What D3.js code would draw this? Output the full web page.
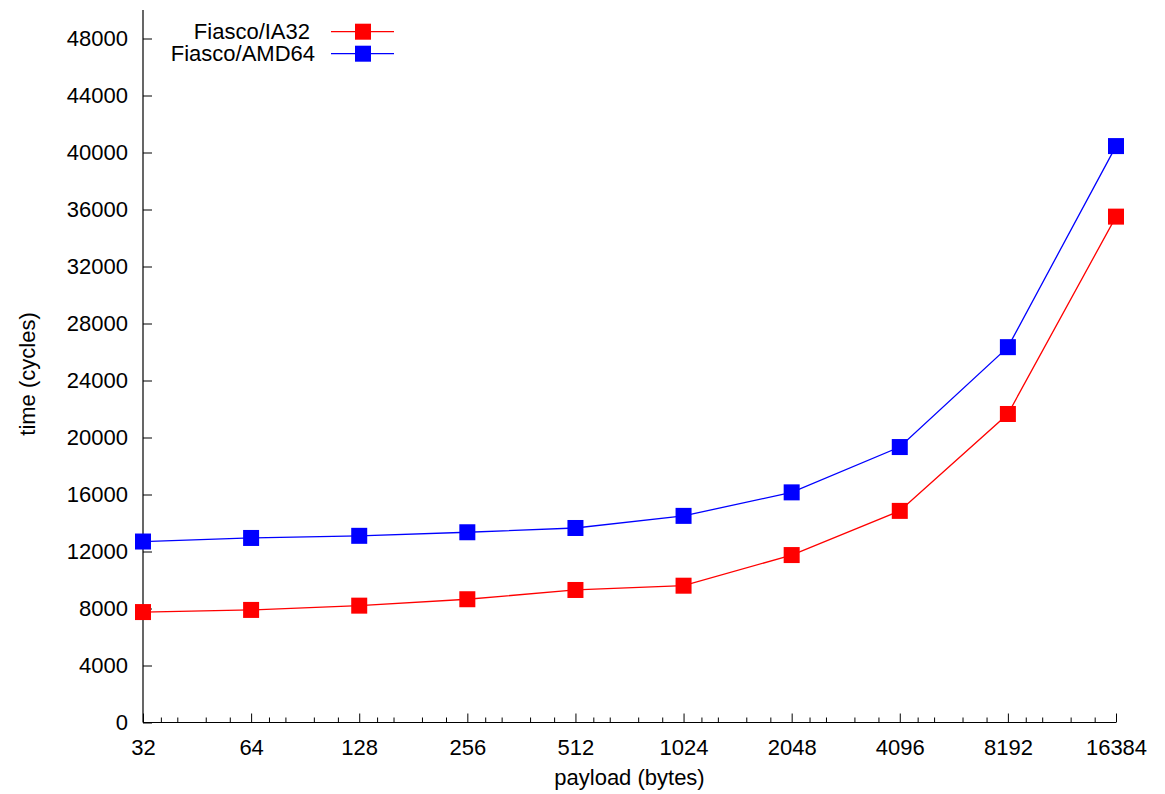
<!DOCTYPE html>
<html>
<head>
<meta charset="utf-8">
<script src="https://d3js.org/d3.v7.min.js"></script>
<style>
  body { margin: 0; background: #fff; }
  text { font-family: "Liberation Sans", Arial, sans-serif; fill: #000; }
</style>
</head>
<body>
<div id="chart"></div>
<script>
// payload sizes (bytes)
const payloads = [32, 64, 128, 256, 512, 1024, 2048, 4096, 8192, 16384];
// time in cycles
const ia32 = [7750, 7900, 8200, 8650, 9300, 9600, 11750, 14850, 21650, 35500];
const amd64 = [12700, 12950, 13100, 13350, 13650, 14500, 16150, 19330, 26340, 40450];
const yTicks = [0, 4000, 8000, 12000, 16000, 20000, 24000, 28000, 32000, 36000, 40000, 44000, 48000];
const minorSteps = [9 / 8, 10 / 8, 12 / 8, 14 / 8];

const series = [
    { name: "Fiasco/IA32", values: ia32, color: "#ff0000", labelX: 310 },
    { name: "Fiasco/AMD64", values: amd64, color: "#0000ff", labelX: 315 }
];

const width = 1165, height = 794;
const margin = { top: 10, right: 49, bottom: 71.5, left: 143 };
const innerW = width - margin.left - margin.right;
const innerH = height - margin.top - margin.bottom;

const svg = d3.select("#chart").append("svg")
    .attr("width", width)
    .attr("height", height);

const g = svg.append("g")
    .attr("transform", "translate(" + margin.left + "," + margin.top + ")");

const x = d3.scaleLog().base(2)
    .domain([32, 16384])
    .range([0, innerW]);

const y = d3.scaleLinear()
    .domain([0, 50000])
    .range([innerH, 0]);

// minor ticks on x (log)
let minorTicks = [];
payloads.slice(0, -1).forEach(p => minorSteps.forEach(s => minorTicks.push(p * s)));

g.append("g")
    .attr("transform", "translate(0," + innerH + ")")
    .selectAll("line")
    .data(minorTicks)
    .enter().append("line")
    .attr("x1", d => x(d)).attr("x2", d => x(d))
    .attr("y1", 0).attr("y2", -5)
    .attr("stroke", "#000").attr("stroke-width", 1);

// x axis
const xAxis = d3.axisBottom(x)
    .tickValues(payloads)
    .tickFormat(d3.format("d"))
    .tickSize(-9)
    .tickPadding(17);

const gx = g.append("g")
    .attr("transform", "translate(0," + innerH + ")")
    .call(xAxis);
gx.select(".domain").attr("d", "M0,0H" + innerW).attr("stroke-width", 1.2);
gx.selectAll(".tick line").attr("stroke-width", 1);
gx.selectAll("text").style("font-size", "22px").attr("dy", "0.71em");

// y axis
const yAxis = d3.axisLeft(y)
    .tickValues(yTicks)
    .tickFormat(d3.format("d"))
    .tickSize(-9)
    .tickPadding(15);

const gy = g.append("g").call(yAxis);
gy.select(".domain").attr("d", "M0," + innerH + "V0").attr("stroke-width", 1.2);
gy.selectAll(".tick line").attr("stroke-width", 1);
gy.selectAll("text").style("font-size", "22px");

// axis titles
svg.append("text")
    .attr("x", margin.left + innerW / 2)
    .attr("y", 785)
    .attr("text-anchor", "middle")
    .style("font-size", "22px")
    .text("payload (bytes)");

svg.append("text")
    .attr("transform", "translate(35,374) rotate(-90)")
    .attr("text-anchor", "middle")
    .style("font-size", "22px")
    .text("time (cycles)");

// lines and markers
const line = d3.line()
    .x((d, i) => x(payloads[i]))
    .y(d => y(d));

series.forEach(s => {
    g.append("path")
        .datum(s.values)
        .attr("fill", "none")
        .attr("stroke", s.color)
        .attr("stroke-width", 1.3)
        .attr("d", line);

    g.selectAll(null)
        .data(s.values)
        .enter().append("rect")
        .attr("x", (d, i) => x(payloads[i]) - 8)
        .attr("y", d => y(d) - 8)
        .attr("width", 16)
        .attr("height", 16)
        .attr("fill", s.color);
});

// legend
const legend = svg.append("g");
series.forEach((s, i) => {
    const ly = 31.7 + i * 22;
    legend.append("text")
        .attr("x", s.labelX)
        .attr("y", ly)
        .attr("dy", "0.35em")
        .attr("text-anchor", "end")
        .style("font-size", "22px")
        .text(s.name);
    legend.append("line")
        .attr("x1", 331).attr("x2", 394)
        .attr("y1", ly).attr("y2", ly)
        .attr("stroke", s.color)
        .attr("stroke-width", 1.3);
    legend.append("rect")
        .attr("x", 363 - 8).attr("y", ly - 8)
        .attr("width", 16).attr("height", 16)
        .attr("fill", s.color);
});
</script>
</body>
</html>
